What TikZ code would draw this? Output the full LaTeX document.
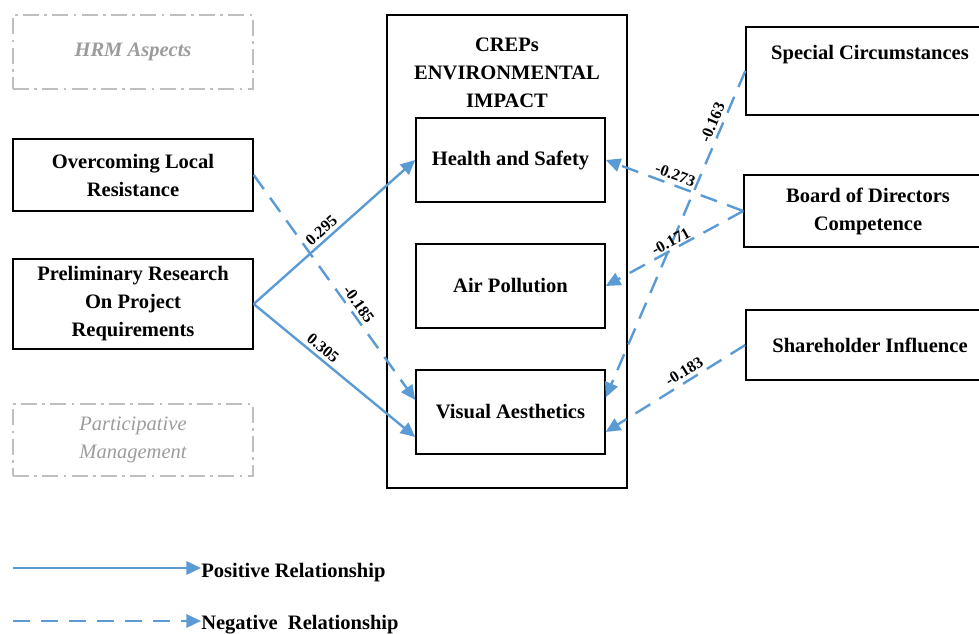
\documentclass[tikz,border=0pt]{standalone}
\usepackage{fontspec}
\setmainfont{Liberation Serif}
\usetikzlibrary{arrows.meta,positioning}
\definecolor{relblue}{HTML}{5B9BD5}
\definecolor{aspgray}{HTML}{BFBFBF}
\definecolor{asptext}{HTML}{9C9C9C}
\tikzset{
  factor/.style={draw=black, line width=1.1pt, align=center, inner sep=0pt,
    font=\fontsize{15.4}{21}\selectfont\bfseries},
  aspect/.style={draw=aspgray, line width=1.1pt, dash pattern=on 12pt off 4pt on 2pt off 4pt,
    text=asptext, align=center, minimum width=180pt, minimum height=54pt,
    font=\fontsize{15.4}{21}\selectfont\itshape},
  impact/.style={factor, minimum width=141.75pt, minimum height=63pt},
  moder/.style={factor, minimum width=186pt},
  posrel/.style={draw=relblue, line width=1.8pt, -{Triangle[length=11pt,width=10pt]}},
  negrel/.style={posrel, dash pattern=on 13pt off 8pt},
  coef/.style={font=\fontsize{12}{13}\selectfont\bfseries, sloped, above, inner sep=2.5pt}
}
\begin{document}
\begin{tikzpicture}[x=0.75pt,y=-0.75pt]
 %page
  \clip (0,0) rectangle (979,634);
 %left factors
  \node[aspect, minimum height=55.5pt] (hrm) at (133,52) {\bfseries HRM Aspects};
  \node[factor, minimum width=180pt, minimum height=54pt] (olr) at (133,175) {Overcoming Local\\Resistance};
  \node[factor, minimum width=180pt, minimum height=67.5pt] (prr) at (133,304) {Preliminary Research\\On Project\\Requirements};
  \node[aspect] (pm) at (133,440) {Participative\\Management};
 %environmental impact
  \node[factor, minimum width=180pt, minimum height=354.75pt] (creps) at (507,251.5) {};
  \node[factor, draw=none] (crepst) at (507,73) {CREPs\\ENVIRONMENTAL\\IMPACT};
  \node[impact] (hs) at (510.5,160) {Health and Safety};
  \node[impact] (ap) at (510.5,286) {Air Pollution};
  \node[impact] (va) at (510.5,412) {Visual Aesthetics};
 %right factors
  \node[moder, minimum height=66pt] (sc) at (870,71) {Special Circumstances\\\strut};
  \node[moder, minimum height=54pt] (bdc) at (868,211) {Board of Directors\\Competence};
  \node[moder, minimum height=52.5pt] (shi) at (870,345) {Shareholder Influence};
 %relationships
  \draw[posrel] (prr.east) -- (hs.west) node[coef, pos=0.46] {0.295};
  \draw[posrel] (prr.east) -- ([yshift=-18.75pt]va.west) node[coef, pos=0.39] {0.305};
  \draw[negrel] (olr.east) -- ([yshift=9pt]va.west) node[coef, pos=0.6] {-0.185};
  \draw[negrel] (sc.west) -- ([yshift=11pt]va.east) node[coef, pos=0.17] {-0.163};
  \draw[negrel] (bdc.west) -- (hs.east) node[coef, pos=0.52] {-0.273};
  \draw[negrel] (bdc.west) -- (ap.east) node[coef, pos=0.5, inner sep=1pt] {-0.171};
  \draw[negrel] (shi.west) -- ([yshift=-15pt]va.east) node[coef, pos=0.4] {-0.183};
 %legend
  \coordinate (posstart) at (13,568);
  \coordinate (negstart) at (13,621);
  \node[anchor=west, inner sep=0pt, font=\fontsize{15.4}{21}\selectfont\bfseries] (poskey) at (201,573) {Positive Relationship};
  \node[anchor=west, inner sep=0pt, font=\fontsize{15.4}{21}\selectfont\bfseries] (negkey) at (201,625) {Negative\ \ Relationship};
  \draw[posrel] (posstart) -- (posstart -| poskey.west);
  \draw[negrel] (negstart) -- (negstart -| negkey.west);
\end{tikzpicture}
\end{document}
